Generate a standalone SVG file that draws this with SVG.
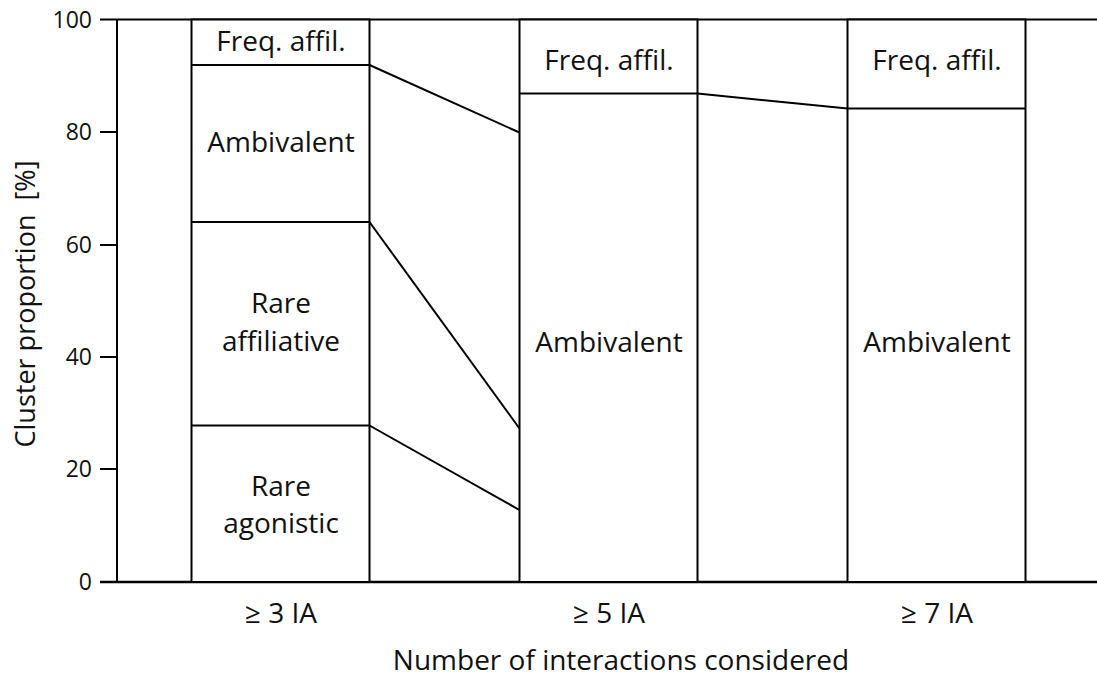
<svg xmlns="http://www.w3.org/2000/svg" width="1097" height="678" viewBox="0 0 1097 678">
<style>
.ln{stroke:#000;stroke-width:2;fill:none}
.bar{stroke:#000;stroke-width:2;fill:#fff}
.t{font-family:"Open Sans","Noto Sans",sans-serif;font-size:28px;fill:#111;text-anchor:middle}
.tk{font-family:"Open Sans","Noto Sans",sans-serif;font-size:23px;fill:#111;text-anchor:end}
</style>
<rect width="1097" height="678" fill="#fff"/>
<g id="axes">
<line class="ln" x1="117" y1="19.5" x2="1097" y2="19.5"/>
<line class="ln" x1="117" y1="19" x2="117" y2="582"/>
<line class="ln" x1="100" y1="582" x2="1097" y2="582" style="stroke-width:2.5"/>
<line class="ln" x1="100" y1="19.5" x2="117" y2="19.5"/>
<line class="ln" x1="100" y1="132" x2="117" y2="132"/>
<line class="ln" x1="100" y1="245" x2="117" y2="245"/>
<line class="ln" x1="100" y1="357" x2="117" y2="357"/>
<line class="ln" x1="100" y1="469" x2="117" y2="469"/>
<text class="tk" x="92" y="28">100</text>
<text class="tk" x="92" y="140">80</text>
<text class="tk" x="92" y="253">60</text>
<text class="tk" x="92" y="365">40</text>
<text class="tk" x="92" y="477">20</text>
<text class="tk" x="92" y="590">0</text>
<text class="t" transform="translate(35,304) rotate(-90)" style="font-size:27px" xml:space="preserve">Cluster proportion  [%]</text>
<text class="t" x="281" y="623">≥ 3 IA</text>
<text class="t" x="609" y="623">≥ 5 IA</text>
<text class="t" x="937" y="623">≥ 7 IA</text>
<text class="t" x="621" y="670">Number of interactions considered</text>
</g>
<g id="bar1">
<rect class="bar" x="191.5" y="19.5" width="178" height="562.5"/>
<line class="ln" x1="191.5" y1="65" x2="369.5" y2="65"/>
<line class="ln" x1="191.5" y1="222" x2="369.5" y2="222"/>
<line class="ln" x1="191.5" y1="425.5" x2="369.5" y2="425.5"/>
<text class="t" x="281" y="51">Freq. affil.</text>
<text class="t" x="281" y="152">Ambivalent</text>
<text class="t" x="281" y="313">Rare</text>
<text class="t" x="281" y="351">affiliative</text>
<text class="t" x="281" y="496">Rare</text>
<text class="t" x="281" y="533">agonistic</text>
</g>
<g id="bar2">
<rect class="bar" x="519.5" y="19.5" width="178" height="562.5"/>
<line class="ln" x1="519.5" y1="93.5" x2="697.5" y2="93.5"/>
<text class="t" x="609" y="70">Freq. affil.</text>
<text class="t" x="609" y="352">Ambivalent</text>
</g>
<g id="bar3">
<rect class="bar" x="847.5" y="19.5" width="178" height="562.5"/>
<line class="ln" x1="847.5" y1="108.5" x2="1025.5" y2="108.5"/>
<text class="t" x="937" y="70">Freq. affil.</text>
<text class="t" x="937" y="352">Ambivalent</text>
</g>
<g id="connectors">
<line class="ln" x1="369.5" y1="65" x2="519.5" y2="132.5"/>
<line class="ln" x1="369.5" y1="222" x2="519.5" y2="428.5"/>
<line class="ln" x1="369.5" y1="425.5" x2="519.5" y2="510"/>
<line class="ln" x1="697.5" y1="93.5" x2="847.5" y2="108.5"/>
</g>
</svg>
